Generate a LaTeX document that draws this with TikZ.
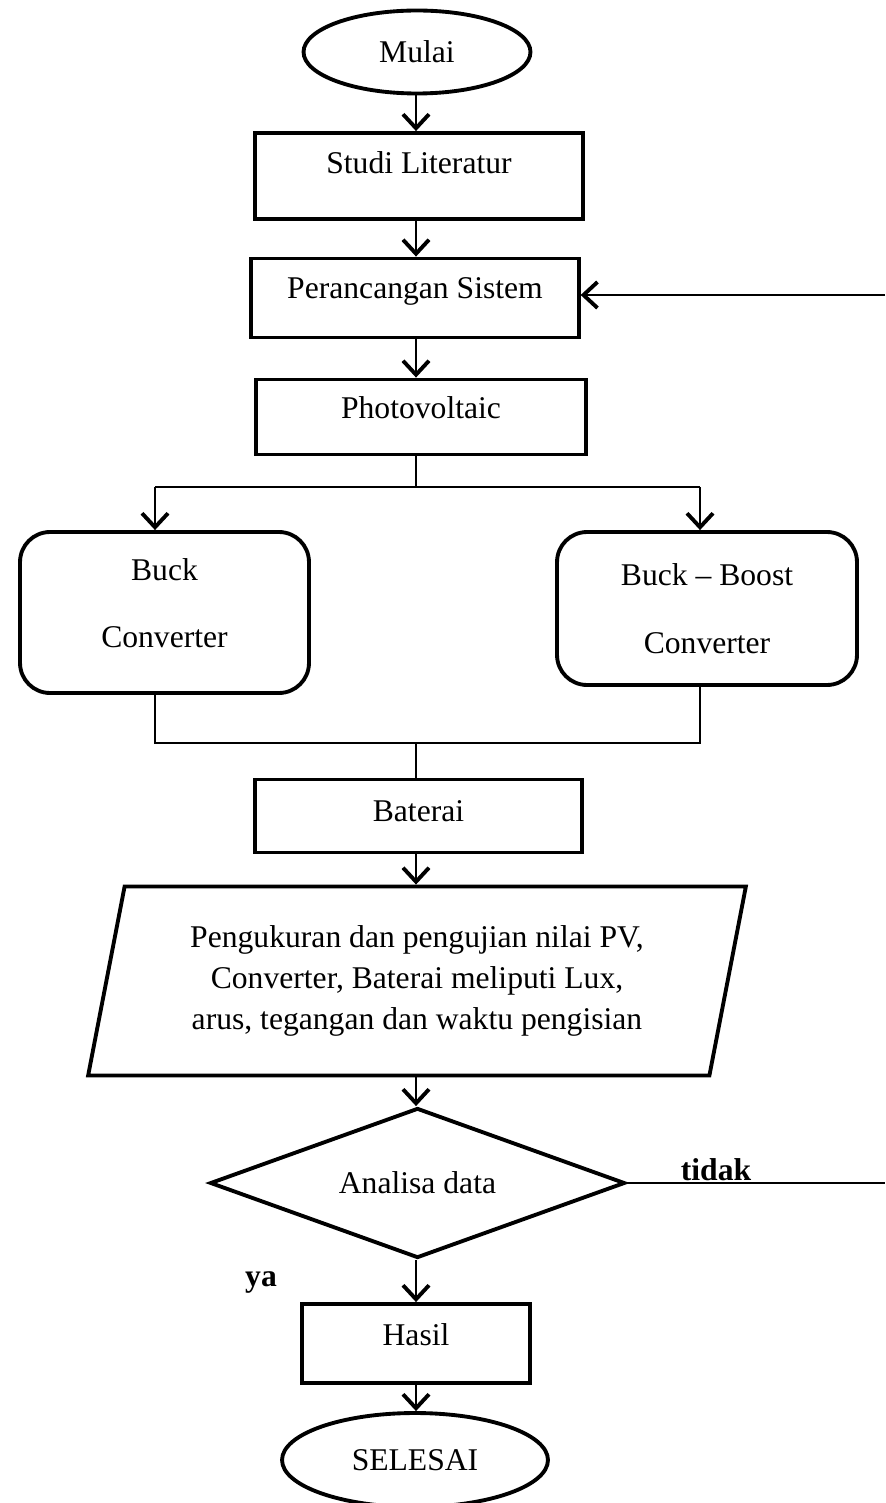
\documentclass[tikz,border=0pt]{standalone}
\usepackage{fontspec}
\setmainfont{Liberation Serif}
\usetikzlibrary{shapes.geometric,arrows.meta}
\tikzset{
  kotak/.style={draw, line width=2.2pt, minimum width=6.55cm, minimum height=1.6cm,
               font=\fontsize{18}{22}\selectfont, inner sep=0pt},
  terminal/.style={kotak, ellipse},
  konverter/.style={kotak, rounded corners=0.6cm, align=center,
               font=\fontsize{18}{38.5}\selectfont},
  masukan/.style={kotak, trapezium, trapezium left angle=75.75, trapezium right angle=104.25,
               trapezium stretches=true, align=center, font=\fontsize{18}{23.5}\selectfont},
  keputusan/.style={kotak, diamond, shape aspect=2.77},
  panah/.style={line width=1.3pt, -{Straight Barb[length=2.8mm, width=5.2mm, line width=2.2pt]}},
  garis/.style={line width=0.9pt},
  label/.style={font=\fontsize{18}{22}\selectfont\bfseries, inner sep=0pt},
}
\begin{document}
\begin{tikzpicture}[x=0.02cm, y=-0.02cm]
    \useasboundingbox (0,0) rectangle (885,1503);
    \node[terminal, minimum width=4.54cm, minimum height=1.66cm] (mulai) at (417,52) {Mulai};
    \node[kotak, minimum height=1.72cm, text depth=0.52cm] (studi) at (419,176) {Studi Literatur};
    \node[kotak, minimum height=1.58cm, text depth=0.4cm] (rancang) at (415,298) {Perancangan Sistem};
    \node[kotak, minimum width=6.6cm, minimum height=1.5cm, text depth=0.36cm] (pv) at (421,417) {Photovoltaic};
    \node[konverter, minimum width=5.78cm, minimum height=3.22cm, text depth=0.38cm] (buck) at (164.5,612.5) {Buck\\Converter};
    \node[konverter, minimum width=6cm, minimum height=3.06cm] (bboost) at (707,608.5) {Buck -- Boost\\Converter};
    \node[kotak, minimum width=6.54cm, minimum height=1.46cm, text depth=0.2cm] (baterai) at (418.5,816) {Baterai};
    \node[masukan, minimum width=13.2cm, minimum height=3.78cm] (ukur) at (417,981)
      {Pengukuran dan pengujian nilai PV,\\Converter, Baterai meliputi Lux,\\arus, tegangan dan waktu pengisian};
    \node[keputusan, minimum width=8.3cm, minimum height=3cm] (analisa) at (417.5,1183) {Analisa data};
    \node[kotak, minimum width=4.56cm, minimum height=1.58cm, text depth=0.34cm] (hasil) at (416,1343.5) {Hasil};
    \node[terminal, minimum width=5.32cm, minimum height=1.88cm] (selesai) at (415,1460) {SELESAI};
    \node[label] (tidak) at (716,1170) {tidak};
    \node[label] (ya) at (261,1282) {ya};
    % titik cabang dan titik tepi
    \coordinate (tengah) at (416,0);
    \coordinate (cabang) at (416,487);
    \coordinate (kiri) at (155,487);
    \coordinate (kanan) at (700,487);
    \coordinate (kiribawah) at (155,743);
    \coordinate (kananbawah) at (700,743);
    \coordinate (gabung) at (416,743);
    \coordinate (tepiatas) at (885,295);
    \coordinate (tepibawah) at (885,1183);
    \draw[panah] (tengah |- mulai.south) -- (tengah |- studi.north);
    \draw[panah] (tengah |- studi.south) -- (tengah |- rancang.north);
    \draw[panah] (tengah |- rancang.south) -- (tengah |- pv.north);
    \draw[garis] (tengah |- pv.south) -- (cabang);
    \draw[garis] (kiri) -- (kanan);
    \draw[panah] (kiri) -- (kiri |- buck.north);
    \draw[panah] (kanan) -- (kanan |- bboost.north);
    \draw[garis] (kiri |- buck.south) -- (kiribawah) -- (kananbawah) -- (kanan |- bboost.south);
    \draw[garis] (gabung) -- (gabung |- baterai.north);
    \draw[panah] (tengah |- baterai.south) -- (tengah |- ukur.north);
    \draw[panah] (tengah |- ukur.south) -- (tengah |- analisa.north);
    \draw[panah] (tengah |- analisa.south) -- (tengah |- hasil.north);
    \draw[panah] (tengah |- hasil.south) -- (tengah |- selesai.north);
    \draw[garis] (analisa.east) -- (tepibawah);
    \draw[panah] (tepiatas) -- (rancang.east |- tepiatas);
  \end{tikzpicture}
\end{document}
